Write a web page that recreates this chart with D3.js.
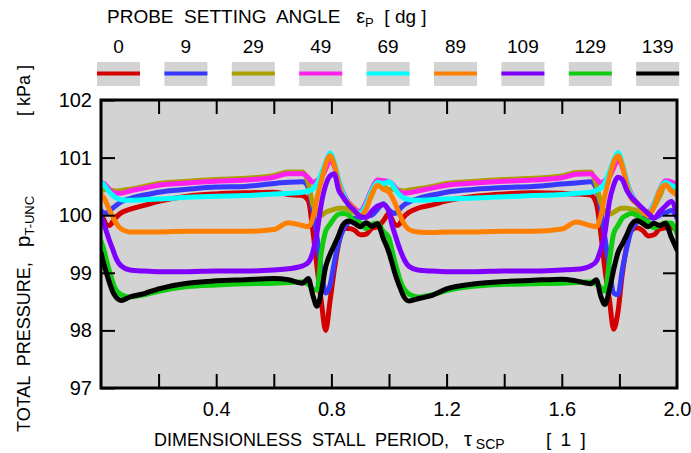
<!DOCTYPE html>
<html><head><meta charset="utf-8">
<script src="https://cdn.jsdelivr.net/npm/d3@7"></script>
<style>
body{margin:0;background:#fff;}
svg{display:block;font-family:"Liberation Sans",Arial,sans-serif;}
text{white-space:pre;fill:#000;}
</style></head><body>
<svg id="c" width="691" height="453"></svg>
<script>
// ---- data ----
const tau = [0, 0.01, 0.02, 0.03, 0.04, 0.05, 0.07, 0.1, 0.15, 0.2, 0.3, 0.4, 0.5, 0.6, 0.65, 0.7, 0.72, 0.735, 0.75, 0.765, 0.78, 0.795, 0.81, 0.825, 0.84, 0.86, 0.88, 0.9, 0.92, 0.94, 0.96, 0.98,
  1.0, 1.01, 1.02, 1.03, 1.04, 1.05, 1.07, 1.1, 1.15, 1.2, 1.3, 1.4, 1.5, 1.6, 1.65, 1.7, 1.72, 1.735, 1.75, 1.765, 1.78, 1.795, 1.81, 1.825, 1.84, 1.86, 1.88, 1.9, 1.92, 1.94, 1.96, 1.98, 2.0];
const angles = ["0", "9", "29", "49", "69", "89", "109", "129", "139"];
const p0 = [100.02, 99.92, 99.83, 99.82, 99.88, 99.95, 100.04, 100.10, 100.17, 100.24, 100.33, 100.37, 100.39, 100.40, 100.36, 100.34, 100.25, 99.75, 99.10, 98.50, 98.00, 98.50, 99.05, 99.50, 99.77, 99.77, 99.74, 99.66, 99.67, 99.77, 99.80, 99.90,
  100.03, 99.93, 99.84, 99.82, 99.87, 99.96, 100.05, 100.12, 100.18, 100.25, 100.33, 100.37, 100.39, 100.38, 100.37, 100.35, 100.20, 99.70, 99.05, 98.55, 98.02, 98.32, 98.98, 99.45, 99.73, 99.78, 99.74, 99.64, 99.66, 99.76, 99.78, 99.79, 99.72];
const p9 = [100.08, 100.04, 100.03, 100.08, 100.12, 100.16, 100.23, 100.29, 100.35, 100.40, 100.45, 100.49, 100.50, 100.55, 100.57, 100.58, 100.48, 100.10, 99.62, 99.05, 98.65, 98.78, 99.18, 99.52, 99.74, 99.88, 99.95, 99.96, 99.98, 100.00, 100.10, 100.20,
  100.09, 100.05, 100.03, 100.07, 100.12, 100.17, 100.23, 100.29, 100.35, 100.40, 100.45, 100.48, 100.50, 100.54, 100.56, 100.58, 100.46, 100.12, 99.60, 99.08, 98.65, 98.62, 99.05, 99.42, 99.72, 99.87, 99.95, 99.97, 99.95, 100.00, 100.04, 100.08, 99.95];
const p29 = [100.42, 100.44, 100.45, 100.44, 100.43, 100.42, 100.43, 100.45, 100.50, 100.55, 100.59, 100.62, 100.64, 100.69, 100.75, 100.75, 100.55, 100.20, 100.05, 100.00, 100.05, 100.08, 100.10, 100.12, 100.12, 100.10, 100.05, 100.02, 100.15, 100.35, 100.55, 100.52,
  100.44, 100.45, 100.45, 100.44, 100.43, 100.42, 100.44, 100.46, 100.50, 100.55, 100.59, 100.62, 100.64, 100.68, 100.74, 100.75, 100.52, 100.22, 100.06, 100.02, 100.05, 100.10, 100.12, 100.12, 100.11, 100.08, 100.04, 100.02, 100.14, 100.33, 100.54, 100.50, 100.40];
const p49 = [100.57, 100.55, 100.50, 100.44, 100.40, 100.38, 100.38, 100.42, 100.47, 100.52, 100.56, 100.59, 100.61, 100.66, 100.72, 100.72, 100.65, 100.57, 100.60, 100.65, 100.80, 100.95, 100.85, 100.60, 100.40, 100.22, 100.12, 100.06, 100.22, 100.45, 100.61, 100.60,
  100.58, 100.55, 100.49, 100.43, 100.40, 100.38, 100.39, 100.42, 100.47, 100.52, 100.56, 100.59, 100.61, 100.65, 100.71, 100.72, 100.63, 100.56, 100.60, 100.66, 100.82, 100.96, 100.84, 100.58, 100.38, 100.21, 100.11, 100.05, 100.20, 100.44, 100.60, 100.58, 100.52];
const p69 = [100.57, 100.53, 100.46, 100.40, 100.35, 100.31, 100.27, 100.26, 100.27, 100.28, 100.31, 100.33, 100.34, 100.37, 100.38, 100.40, 100.42, 100.45, 100.55, 100.72, 100.92, 101.08, 100.92, 100.62, 100.38, 100.20, 100.10, 100.03, 100.18, 100.42, 100.57, 100.55,
  100.58, 100.54, 100.46, 100.39, 100.34, 100.30, 100.27, 100.26, 100.27, 100.28, 100.30, 100.32, 100.34, 100.36, 100.38, 100.40, 100.43, 100.47, 100.57, 100.75, 100.95, 101.09, 100.90, 100.60, 100.36, 100.20, 100.09, 100.02, 100.20, 100.44, 100.57, 100.52, 100.48];
const p89 = [100.35, 100.30, 100.20, 100.08, 99.98, 99.88, 99.76, 99.71, 99.71, 99.71, 99.72, 99.72, 99.72, 99.75, 99.87, 99.82, 99.80, 99.94, 100.30, 100.60, 100.88, 101.03, 100.88, 100.56, 100.32, 100.21, 100.10, 99.99, 100.10, 100.36, 100.52, 100.45,
  100.40, 100.32, 100.22, 100.10, 99.98, 99.87, 99.75, 99.71, 99.70, 99.71, 99.71, 99.72, 99.72, 99.76, 99.88, 99.82, 99.80, 99.98, 100.35, 100.65, 100.92, 101.03, 100.86, 100.55, 100.30, 100.20, 100.08, 99.99, 100.15, 100.42, 100.53, 100.42, 100.35];
const p109 = [100.00, 99.85, 99.70, 99.55, 99.42, 99.28, 99.12, 99.05, 99.03, 99.02, 99.02, 99.03, 99.03, 99.05, 99.07, 99.12, 99.18, 99.35, 99.70, 100.20, 100.52, 100.68, 100.72, 100.44, 100.32, 100.18, 100.08, 99.98, 99.96, 100.07, 100.16, 100.18,
  100.06, 99.84, 99.68, 99.52, 99.38, 99.26, 99.11, 99.05, 99.03, 99.02, 99.02, 99.03, 99.03, 99.05, 99.06, 99.12, 99.20, 99.40, 99.70, 100.23, 100.52, 100.66, 100.62, 100.44, 100.32, 100.22, 100.12, 100.03, 99.95, 100.06, 100.16, 100.24, 100.00];
const p129 = [99.55, 99.40, 99.20, 99.02, 98.85, 98.72, 98.62, 98.58, 98.62, 98.68, 98.76, 98.79, 98.81, 98.82, 98.83, 98.84, 98.80, 98.72, 98.70, 99.35, 99.72, 99.84, 99.95, 100.02, 100.03, 100.00, 99.90, 99.87, 99.77, 99.84, 99.86, 99.72,
  99.60, 99.40, 99.20, 99.02, 98.85, 98.74, 98.63, 98.58, 98.62, 98.69, 98.77, 98.80, 98.81, 98.82, 98.83, 98.84, 98.80, 98.75, 98.68, 99.19, 99.68, 99.82, 99.95, 100.00, 100.03, 100.00, 99.93, 99.88, 99.78, 99.82, 99.87, 99.86, 99.68];
const p139 = [99.35, 99.15, 98.98, 98.82, 98.68, 98.59, 98.52, 98.58, 98.64, 98.72, 98.82, 98.86, 98.88, 98.90, 98.88, 98.82, 98.90, 98.62, 98.42, 98.67, 99.10, 99.32, 99.48, 99.65, 99.83, 99.90, 99.86, 99.80, 99.87, 99.81, 99.85, 99.60,
  99.35, 99.18, 99.00, 98.85, 98.72, 98.60, 98.51, 98.55, 98.61, 98.72, 98.81, 98.85, 98.87, 98.89, 98.86, 98.81, 98.88, 98.60, 98.45, 98.70, 99.05, 99.35, 99.50, 99.65, 99.82, 99.91, 99.86, 99.80, 99.86, 99.82, 99.86, 99.62, 99.40];
const seriesValues = [p0, p9, p29, p49, p69, p89, p109, p129, p139];
const xTickValues = [0.2, 0.4, 0.6, 0.8, 1.0, 1.2, 1.4, 1.6, 1.8];
const xTickLabels = ["0.4", "0.8", "1.2", "1.6", "2.0"];
const yTickValues = [97, 98, 99, 100, 101, 102];

// ---- styles ----
const colors = ["#d40000", "#3838ff", "#aaa000", "#ff20ee", "#00ffff", "#ff8000", "#8000ff", "#10cc10", "#000000"];

const svg = d3.select("#c");
const m = {l: 101, r: 677, t: 100, b: 388};
const x = d3.scaleLinear().domain([0, 2]).range([m.l, m.r]);
const y = d3.scaleLinear().domain([97, 102]).range([m.b, m.t]);

svg.append("rect").attr("x", m.l).attr("y", m.t).attr("width", m.r - m.l).attr("height", m.b - m.t).attr("fill", "#d3d3d3");
svg.append("clipPath").attr("id", "clip").append("rect").attr("x", m.l).attr("y", m.t).attr("width", m.r - m.l).attr("height", m.b - m.t);

const line = d3.line().x((d, i) => x(tau[i])).y(d => y(d)).curve(d3.curveMonotoneX);
const g = svg.append("g").attr("clip-path", "url(#clip)");
seriesValues.forEach((vals, k) => {
  g.append("path").attr("d", line(vals)).attr("fill", "none").attr("stroke", colors[k])
    .attr("stroke-width", 5).attr("stroke-linejoin", "round").attr("stroke-linecap", "round");
});

// axes
const fmtX = d => { const s = d3.format(".1f")(d); return xTickLabels.includes(s) ? s : ""; };
const xb = svg.append("g").attr("transform", `translate(0,${m.b})`)
  .call(d3.axisBottom(x).tickValues(xTickValues.concat([2.0])).tickSize(-14).tickPadding(14).tickFormat(fmtX));
const xt = svg.append("g").attr("transform", `translate(0,${m.t})`)
  .call(d3.axisTop(x).tickValues(xTickValues).tickSize(-14).tickFormat(""));
const yl = svg.append("g").attr("transform", `translate(${m.l},0)`)
  .call(d3.axisLeft(y).tickValues(yTickValues).tickSize(-14).tickPadding(9).tickFormat(d3.format("d")));
const yr = svg.append("g").attr("transform", `translate(${m.r},0)`)
  .call(d3.axisRight(y).tickValues(yTickValues.slice(1, 5)).tickSize(-14).tickFormat(""));
[xb, xt, yl, yr].forEach(a => {
  a.select(".domain").remove();
  a.selectAll(".tick line").attr("stroke", "#000").attr("stroke-width", 2);
  a.selectAll("text").attr("font-size", 20).attr("font-family", "Liberation Sans, Arial, sans-serif").attr("fill", "#000");
});
xb.selectAll(".tick").filter(d => d === 2.0).select("line").remove();

svg.append("rect").attr("x", m.l).attr("y", m.t).attr("width", m.r - m.l).attr("height", m.b - m.t)
  .attr("fill", "none").attr("stroke", "#000").attr("stroke-width", 3);

// x title
const xt1 = svg.append("text").attr("x", 154).attr("y", 446).attr("font-size", 18);
xt1.append("tspan").text("DIMENSIONLESS  STALL  PERIOD,   ");
xt1.append("tspan").text("τ").attr("font-size", 20);
xt1.append("tspan").text(" SCP").attr("font-size", 14).attr("dy", 2.5);
svg.append("text").attr("x", 546).attr("y", 446).attr("font-size", 19).attr("letter-spacing", 2).text("[ 1 ]");

// y title
const yt = svg.append("text").attr("transform", "translate(30,432) rotate(-90)").attr("font-size", 18);
yt.append("tspan").text("TOTAL  PRESSURE,   ");
yt.append("tspan").text("p").attr("font-size", 21);
yt.append("tspan").text("T-UNC").attr("font-size", 13).attr("dy", 4);
svg.append("text").attr("transform", "translate(30,432) rotate(-90)").attr("x", 367)
  .attr("text-anchor", "end").attr("font-size", 18).text("[ kPa ]");

// legend
const lt = svg.append("text").attr("x", 107).attr("y", 23).attr("font-size", 19);
lt.append("tspan").text("PROBE  SETTING  ANGLE   ");
lt.append("tspan").text("ε").attr("font-size", 20);
lt.append("tspan").text("P").attr("font-size", 13).attr("dy", 4);
lt.append("tspan").text("  [ dg ]").attr("dy", -4);

const lg = svg.append("g");
angles.forEach((a, i) => {
  const x0 = 97 + i * 67.4;
  lg.append("text").attr("x", x0 + 21.5).attr("y", 53).attr("text-anchor", "middle").attr("font-size", 19).text(a);
  lg.append("rect").attr("x", x0).attr("y", 62).attr("width", 43).attr("height", 24).attr("fill", "#d3d3d3");
  lg.append("line").attr("x1", x0).attr("x2", x0 + 43).attr("y1", 73.5).attr("y2", 73.5)
    .attr("stroke", colors[i]).attr("stroke-width", 4);
});
</script>
</body></html>
